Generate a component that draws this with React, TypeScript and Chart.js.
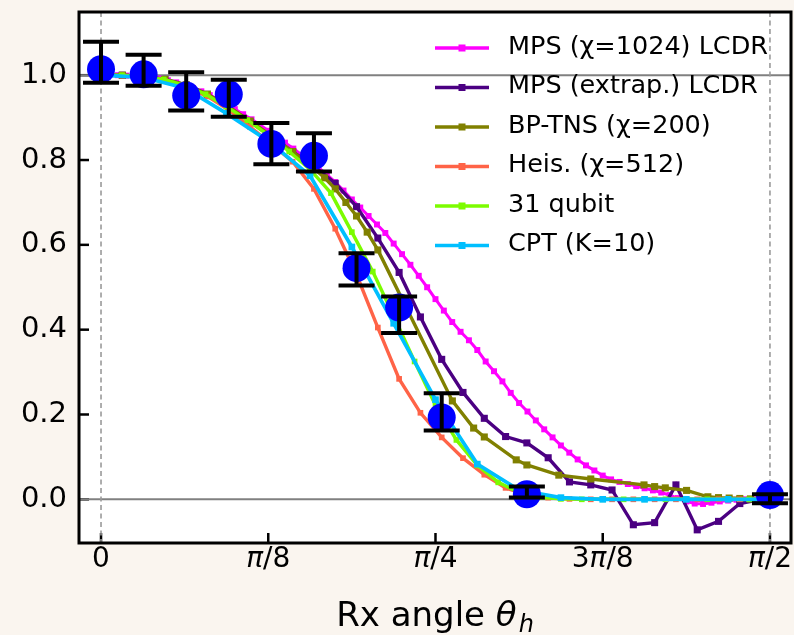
import React, { useEffect, useRef } from "react";
import { Chart, registerables } from "chart.js";
Chart.register(...registerables);

const PI = Math.PI;
const CREAM = "#faf5ef";
const FONT = "DejaVu Sans";

// ---------------- data ----------------
// experiment (blue circles with error bars)
const expTheta = [0, 0.1, 0.2, 0.3, 0.4, 0.5, 0.6, 0.7, 0.8, 1.0, 1.5708];
const expValue = [1.014, 1.002, 0.952, 0.955, 0.838, 0.81, 0.545, 0.452, 0.193, 0.012, 0.01];
const expLower = [0.982, 0.975, 0.917, 0.902, 0.79, 0.773, 0.504, 0.392, 0.162, 0.004, -0.009];
const expUpper = [1.079, 1.048, 1.007, 0.989, 0.887, 0.863, 0.58, 0.478, 0.25, 0.03, 0.012];

// MPS (chi=1024) LCDR
const mpsTheta = [
  0, 0.0196, 0.0393, 0.0589, 0.0785, 0.0982, 0.1178, 0.1374, 0.1571, 0.1767, 0.1963, 0.216, 0.2356,
  0.2553, 0.2749, 0.2945, 0.3142, 0.3338, 0.3534, 0.3731, 0.3927, 0.4123, 0.432, 0.4516, 0.4712,
  0.4909, 0.5105, 0.5301, 0.5498, 0.5694, 0.589, 0.6087, 0.6283, 0.648, 0.6676, 0.6872, 0.7069,
  0.7265, 0.7461, 0.7658, 0.7854, 0.805, 0.8247, 0.8443, 0.8639, 0.8836, 0.9032, 0.9228, 0.9425,
  0.9621, 0.9817, 1.0014, 1.021, 1.0407, 1.0603, 1.0799, 1.0996, 1.1192, 1.1388, 1.1585, 1.1781,
  1.1977, 1.2174, 1.237, 1.2566, 1.2763, 1.2959, 1.3155, 1.3352, 1.3548, 1.3744, 1.3941, 1.4137,
  1.4334, 1.453, 1.4726, 1.4923, 1.5119, 1.5315, 1.5512, 1.5708,
];
const mpsValue = [
  1.0, 1.0, 1.0, 0.999, 0.998, 0.997, 0.995, 0.992, 0.988, 0.983, 0.977, 0.97, 0.962, 0.953, 0.943,
  0.932, 0.92, 0.908, 0.896, 0.883, 0.869, 0.855, 0.841, 0.827, 0.812, 0.797, 0.782, 0.766, 0.748,
  0.728, 0.707, 0.688, 0.668, 0.648, 0.628, 0.603, 0.578, 0.553, 0.527, 0.5, 0.472, 0.445, 0.418,
  0.395, 0.375, 0.352, 0.325, 0.302, 0.278, 0.251, 0.227, 0.207, 0.186, 0.165, 0.146, 0.127, 0.11,
  0.094, 0.08, 0.068, 0.056, 0.047, 0.041, 0.036, 0.031, 0.026, 0.021, 0.016, 0.01, 0.003, -0.005,
  -0.01, -0.011, -0.008, -0.005, -0.003, -0.001, 0.0, 0.0, 0.0, 0.0,
];

// MPS (extrap.) LCDR
const extTheta = [
  0, 0.05, 0.1, 0.15, 0.2, 0.25, 0.3, 0.35, 0.4, 0.45, 0.5, 0.55, 0.6, 0.65, 0.7, 0.75, 0.8, 0.85,
  0.9, 0.95, 1.0, 1.05, 1.1, 1.15, 1.2, 1.25, 1.3, 1.35, 1.4, 1.45, 1.5, 1.55, 1.5708,
];
const extValue = [
  1.0, 1.0, 0.997, 0.99, 0.977, 0.955, 0.925, 0.89, 0.855, 0.82, 0.785, 0.745, 0.69, 0.616, 0.535,
  0.43, 0.33, 0.252, 0.191, 0.148, 0.133, 0.098, 0.041, 0.034, 0.022, -0.06, -0.055, 0.034, -0.072,
  -0.052, -0.01, 0.0, 0.0,
];

// BP-TNS (chi=200)
const bpTheta = [
  0, 0.05, 0.1, 0.15, 0.2, 0.25, 0.3, 0.35, 0.4, 0.45, 0.5, 0.525, 0.55, 0.575, 0.6, 0.625, 0.65,
  0.825, 0.875, 0.9, 0.975, 1.0, 1.075, 1.15, 1.275, 1.3, 1.325, 1.375, 1.425, 1.45, 1.475, 1.5,
  1.525, 1.55, 1.5708,
];
const bpValue = [
  1.0, 1.0, 0.997, 0.99, 0.977, 0.955, 0.925, 0.892, 0.857, 0.82, 0.78, 0.758, 0.732, 0.7, 0.668,
  0.63, 0.588, 0.232, 0.168, 0.147, 0.093, 0.081, 0.057, 0.048, 0.034, 0.03, 0.027, 0.021, 0.006,
  0.004, 0.003, 0.002, 0.001, 0.0, 0.0,
];

// Heis. (chi=512)
const heisTheta = [
  0, 0.05, 0.1, 0.15, 0.2, 0.25, 0.3, 0.35, 0.4, 0.45, 0.5, 0.55, 0.6, 0.65, 0.7, 0.75, 0.8, 0.85,
  0.9, 0.95, 1.0, 1.05, 1.1, 1.15, 1.2, 1.25, 1.3, 1.35, 1.4, 1.45, 1.5, 1.55, 1.5708,
];
const heisValue = [
  1.0, 0.999, 0.995, 0.986, 0.972, 0.95, 0.918, 0.878, 0.838, 0.796, 0.732, 0.638, 0.53, 0.405,
  0.284, 0.204, 0.146, 0.097, 0.058, 0.027, 0.01, 0.004, 0.001, 0.0, 0.0, 0.0, 0.0, 0.0, 0.0, 0.0,
  0.0, 0.0, 0.0,
];

// 31 qubit
const q31Theta = [
  0, 0.0491, 0.0982, 0.1473, 0.1963, 0.2454, 0.2945, 0.3436, 0.3927, 0.4418, 0.4909, 0.54, 0.589,
  0.6381, 0.6872, 0.7363, 0.7854, 0.8345, 0.8836, 0.9327, 0.9817, 1.0308, 1.0799, 1.129, 1.1781,
  1.2272, 1.2763, 1.3254, 1.3744, 1.4235, 1.4726, 1.5217, 1.5708,
];
const q31Value = [
  1.0, 1.0, 0.997, 0.99, 0.976, 0.955, 0.926, 0.894, 0.859, 0.82, 0.778, 0.722, 0.63, 0.537, 0.432,
  0.325, 0.222, 0.14, 0.08, 0.04, 0.016, 0.005, 0.001, 0.0, 0.0, 0.0, 0.0, 0.0, 0.0, 0.0, 0.0, 0.0,
  0.0,
];

// CPT (K=10)
const cptTheta = [
  0, 0.0982, 0.1963, 0.2945, 0.3927, 0.4909, 0.589, 0.6872, 0.7854, 0.8836, 0.9817, 1.0799, 1.1781,
  1.2763, 1.3744, 1.4726, 1.5708,
];
const cptValue = [
  1.0, 0.995, 0.97, 0.91, 0.845, 0.763, 0.595, 0.415, 0.235, 0.083, 0.022, 0.004, 0.0, 0.0, 0.0,
  0.0, 0.0,
];

const seriesNames = [
  "MPS (\u03c7=1024) LCDR",
  "MPS (extrap.) LCDR",
  "BP-TNS (\u03c7=200)",
  "Heis. (\u03c7=512)",
  "31 qubit",
  "CPT (K=10)",
];
const seriesColors = ["#ff00ff", "#4b0082", "#808000", "#ff6347", "#7cfc00", "#00bfff"];

const xTickValues = [0, PI / 8, PI / 4, (3 * PI) / 8, PI / 2];
const xTickLabels = [
  ["0", "", ""],
  ["", "\u03c0", "/8"],
  ["", "\u03c0", "/4"],
  ["3", "\u03c0", "/8"],
  ["", "\u03c0", "/2"],
];
const yTickValues = [0, 0.2, 0.4, 0.6, 0.8, 1.0];

const pts = (xs: number[], ys: number[]) => xs.map((x, i) => ({ x, y: ys[i] }));

export default function App() {
  const ref = useRef<HTMLCanvasElement | null>(null);

  useEffect(() => {
    document.body.style.margin = "0";
    document.body.style.background = CREAM;
    const canvas = ref.current!;

    const seriesData = [
      { t: mpsTheta, v: mpsValue, r: 4.2, w: 3 },
      { t: extTheta, v: extValue, r: 5, w: 3.4 },
      { t: bpTheta, v: bpValue, r: 5, w: 3.4 },
      { t: heisTheta, v: heisValue, r: 4, w: 3.4 },
      { t: q31Theta, v: q31Value, r: 4, w: 3.4 },
      { t: cptTheta, v: cptValue, r: 4.7, w: 3.7 },
    ];

    const lineSets = seriesData.map((s, i) => ({
      label: seriesNames[i],
      data: pts(s.t, s.v),
      showLine: true,
      borderColor: seriesColors[i],
      backgroundColor: seriesColors[i],
      borderWidth: s.w,
      pointStyle: "rect" as const,
      pointRadius: s.r,
      pointBorderWidth: 0,
      pointBackgroundColor: seriesColors[i],
      tension: 0,
      order: 6 - i,
    }));

    const expSet = {
      label: "exp",
      data: pts(expTheta, expValue),
      showLine: false,
      pointRadius: 14,
      pointBorderWidth: 0,
      backgroundColor: "#0000ff",
      borderColor: "#0000ff",
      pointBackgroundColor: "#0000ff",
      order: 0,
    };

    const bgPlugin = {
      id: "bg",
      beforeDraw(chart: any) {
        const { ctx, chartArea: a } = chart;
        ctx.save();
        ctx.fillStyle = CREAM;
        ctx.fillRect(0, 0, chart.width, chart.height);
        ctx.fillStyle = "#ffffff";
        ctx.fillRect(a.left, a.top, a.right - a.left, a.bottom - a.top);
        ctx.restore();
      },
    };

    const refPlugin = {
      id: "refLines",
      beforeDatasetsDraw(chart: any) {
        const { ctx, chartArea: a, scales } = chart;
        const xs = scales.x;
        const ys = scales.y;
        ctx.save();
        // inward ticks
        ctx.strokeStyle = "#000";
        ctx.lineWidth = 2.5;
        yTickValues.forEach((v) => {
          const y = ys.getPixelForValue(v);
          ctx.beginPath();
          ctx.moveTo(a.left, y);
          ctx.lineTo(a.left + 10, y);
          ctx.stroke();
        });
        xTickValues.forEach((v) => {
          const x = xs.getPixelForValue(v);
          ctx.beginPath();
          ctx.moveTo(x, a.bottom);
          ctx.lineTo(x, a.bottom - 10);
          ctx.stroke();
        });
        // horizontal reference lines
        ctx.strokeStyle = "#808080";
        ctx.lineWidth = 2;
        [0, 1].forEach((v) => {
          const y = ys.getPixelForValue(v);
          ctx.beginPath();
          ctx.moveTo(a.left, y);
          ctx.lineTo(a.right, y);
          ctx.stroke();
        });
        // vertical dashed lines
        ctx.strokeStyle = "#9a9a9a";
        ctx.lineWidth = 1.6;
        ctx.setLineDash([5, 3.5]);
        [0, PI / 2].forEach((v) => {
          const x = xs.getPixelForValue(v);
          ctx.beginPath();
          ctx.moveTo(x, a.top);
          ctx.lineTo(x, a.bottom);
          ctx.stroke();
        });
        ctx.restore();
      },
    };

    const errPlugin = {
      id: "errBars",
      afterDatasetsDraw(chart: any) {
        const { ctx, scales } = chart;
        const xs = scales.x;
        const ys = scales.y;
        ctx.save();
        ctx.strokeStyle = "#000";
        ctx.lineWidth = 4;
        expTheta.forEach((t, i) => {
          const x = xs.getPixelForValue(t);
          const y1 = ys.getPixelForValue(expLower[i]);
          const y2 = ys.getPixelForValue(expUpper[i]);
          ctx.beginPath();
          ctx.moveTo(x, y1);
          ctx.lineTo(x, y2);
          ctx.moveTo(x - 18, y1);
          ctx.lineTo(x + 18, y1);
          ctx.moveTo(x - 18, y2);
          ctx.lineTo(x + 18, y2);
          ctx.stroke();
        });
        ctx.restore();
      },
    };

    const decorPlugin = {
      id: "decor",
      afterDraw(chart: any) {
        const { ctx, chartArea: a, scales } = chart;
        const xs = scales.x;
        ctx.save();
        // frame
        ctx.strokeStyle = "#000";
        ctx.lineWidth = 3;
        ctx.strokeRect(a.left, a.top, a.right - a.left, a.bottom - a.top);

        // legend
        const lx0 = a.left + 356;
        const lx1 = a.left + 410;
        const tx = a.left + 429;
        ctx.font = `25.5px "${FONT}"`;
        ctx.textBaseline = "middle";
        ctx.textAlign = "left";
        seriesNames.forEach((name, i) => {
          const y = a.top + 36 + i * 39.5;
          ctx.strokeStyle = seriesColors[i];
          ctx.lineWidth = 3.5;
          ctx.beginPath();
          ctx.moveTo(lx0, y);
          ctx.lineTo(lx1, y);
          ctx.stroke();
          ctx.fillStyle = seriesColors[i];
          const cx = (lx0 + lx1) / 2;
          ctx.fillRect(cx - 3.5, y - 3.5, 7, 7);
          ctx.fillStyle = "#000";
          ctx.fillText(name, tx, y - 1);
        });

        // x tick labels (italic pi)
        ctx.fillStyle = "#000";
        ctx.textBaseline = "alphabetic";
        const normal = `28px "${FONT}"`;
        const italic = `italic 28px "${FONT}"`;
        xTickValues.forEach((v, i) => {
          const [pre, pi, post] = xTickLabels[i];
          ctx.font = normal;
          const w1 = ctx.measureText(pre).width;
          const w3 = ctx.measureText(post).width;
          ctx.font = italic;
          const w2 = ctx.measureText(pi).width;
          const total = w1 + w2 + w3;
          let x = xs.getPixelForValue(v) - total / 2;
          const y = a.bottom + 24;
          ctx.textAlign = "left";
          ctx.font = normal;
          ctx.fillText(pre, x, y);
          x += w1;
          ctx.font = italic;
          ctx.fillText(pi, x, y);
          x += w2;
          ctx.font = normal;
          ctx.fillText(post, x, y);
        });

        // x axis title: Rx angle θ_h
        const tFont = `34px "${FONT}"`;
        const tItal = `italic 34px "${FONT}"`;
        const sItal = `italic 24px "${FONT}"`;
        const part1 = "Rx angle ";
        ctx.font = tFont;
        const p1 = ctx.measureText(part1).width;
        ctx.font = tItal;
        const p2 = ctx.measureText("\u03b8").width;
        ctx.font = sItal;
        const p3 = ctx.measureText("h").width;
        const tw = p1 + p2 + p3 + 2;
        let tx0 = (a.left + a.right) / 2 - tw / 2;
        const ty = a.bottom + 83;
        ctx.font = tFont;
        ctx.fillText(part1, tx0, ty);
        tx0 += p1;
        ctx.font = tItal;
        ctx.fillText("\u03b8", tx0, ty);
        tx0 += p2 + 2;
        ctx.font = sItal;
        ctx.fillText("h", tx0, ty + 6);
        ctx.restore();
      },
    };

    const zeroPad = (s: any) => {
      s.paddingTop = 0;
      s.paddingBottom = 0;
      s.paddingLeft = 0;
      s.paddingRight = 0;
    };

    const chart = new Chart(canvas, {
      type: "scatter",
      data: { datasets: [expSet as any, ...(lineSets as any[])] },
      options: {
        animation: false,
        responsive: false,
        events: [],
        layout: { autoPadding: false, padding: { top: 12, right: 3, left: 0, bottom: 0 } },
        plugins: { legend: { display: false }, tooltip: { enabled: false } },
        scales: {
          x: {
            type: "linear",
            min: -0.0517,
            max: 1.6202,
            grid: { display: false, drawTicks: false },
            border: { display: false },
            ticks: { display: false },
            afterBuildTicks: (s: any) => {
              s.ticks = xTickValues.map((v) => ({ value: v }));
            },
            afterFit: (s: any) => {
              s.height = 92;
              zeroPad(s);
            },
          },
          y: {
            type: "linear",
            min: -0.103,
            max: 1.149,
            grid: { display: false, drawTicks: false },
            border: { display: false },
            ticks: {
              padding: 12,
              color: "#000",
              font: { family: FONT, size: 29 },
              callback: (v: any) => Number(v).toFixed(1),
            },
            afterBuildTicks: (s: any) => {
              s.ticks = yTickValues.map((v) => ({ value: v }));
            },
            afterFit: (s: any) => {
              s.width = 79;
              zeroPad(s);
            },
          },
        },
      },
      plugins: [bgPlugin, refPlugin, errPlugin, decorPlugin],
    });
    return () => chart.destroy();
  }, []);

  return (
    <div style={{ width: 794, height: 635 }}>
      <canvas ref={ref} width={794} height={635} style={{ display: "block", width: 794, height: 635 }} />
    </div>
  );
}
